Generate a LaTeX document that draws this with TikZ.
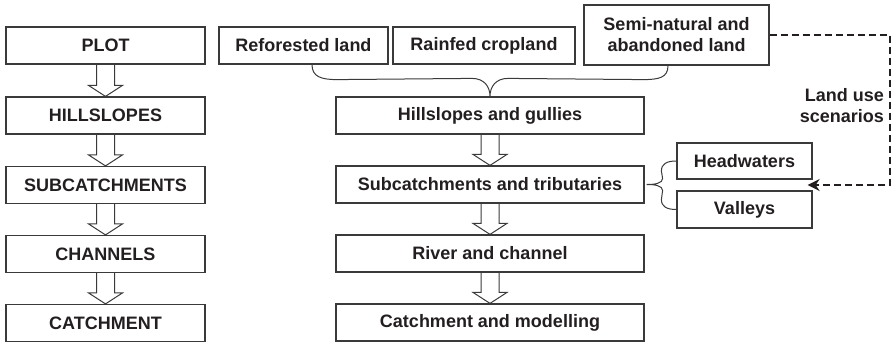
\documentclass[tikz,border=0pt]{standalone}
\usepackage{fontspec}
\setmainfont{Liberation Sans}
\usetikzlibrary{arrows.meta, calc}
\definecolor{boxline}{HTML}{3A3A3A}
\definecolor{inkdark}{HTML}{231F20}

\begin{document}
\begin{tikzpicture}[x=1pt, y=-1pt,
  box/.style={draw=boxline, line width=1.2pt, inner sep=0pt, align=center, text=inkdark, font=\fontsize{18}{21}\selectfont\bfseries},
  hollow/.style={draw=boxline, line width=1pt, line join=miter},
  brace/.style={draw=boxline, line width=1pt},
  scen/.style={draw=inkdark, line width=2pt, dash pattern=on 7pt off 4pt, -{Stealth[length=12pt, width=12pt]}}
]
  \useasboundingbox (0,0) rectangle (892,343);

  % left column: scales
  \node[box, minimum width=199pt, minimum height=37pt] (lplot) at (105.5, 45.5) {PLOT};
  \node[box, minimum width=199pt, minimum height=37pt] (lhill) at (105.5, 115.5) {HILLSLOPES};
  \node[box, minimum width=199pt, minimum height=37pt] (lsub) at (105.5, 185) {SUBCATCHMENTS};
  \node[box, minimum width=199pt, minimum height=37pt] (lchan) at (105.5, 254) {CHANNELS};
  \node[box, minimum width=199pt, minimum height=37pt] (lcatch) at (105.5, 323) {CATCHMENT};

  % top row: land uses
  \node[box, minimum width=169pt, minimum height=37pt] (reforest) at (303.5, 45.5) {Reforested land};
  \node[box, minimum width=182pt, minimum height=37pt] (rainfed) at (484, 45.5) {Rainfed cropland};
  \node[box, minimum width=185pt, minimum height=60pt] (seminat) at (676.5, 35) {Semi-natural and\\abandoned land};

  % middle column
  \node[box, minimum width=308pt, minimum height=37pt] (hill) at (490, 115.5) {Hillslopes and gullies};
  \node[box, minimum width=308pt, minimum height=37pt] (sub) at (490, 184.5) {Subcatchments and tributaries};
  \node[box, minimum width=308pt, minimum height=37pt] (river) at (490, 253.5) {River and channel};
  \node[box, minimum width=308pt, minimum height=37pt] (model) at (490, 322.5) {Catchment and modelling};

  \node[box, minimum width=135pt, minimum height=36pt] (head) at (744.5, 161) {Headwaters};
  \node[box, minimum width=135pt, minimum height=37pt] (valley) at (744.5, 209.5) {Valleys};

  \node[align=right, anchor=east, inner sep=0pt, text=inkdark, font=\fontsize{18}{21}\selectfont\bfseries]
    (lu) at (884, 106) {Land use\\scenarios};

  % hollow block arrows
  \foreach \a/\b in {lplot/lhill, lhill/lsub, lsub/lchan, lchan/lcatch, hill/sub, sub/river, river/model}
    \draw[hollow] ($(\a.south)+(-9,0)$) -- ($(\b.north)+(-9,-11)$) -- ($(\b.north)+(-17,-11)$)
      -- (\b.north) -- ($(\b.north)+(17,-11)$) -- ($(\b.north)+(9,-11)$) -- ($(\a.south)+(9,0)$);

  % brace from land uses
  \coordinate (bl) at ([xshift=8.5pt]reforest.south);
  \coordinate (br) at ([xshift=-8.5pt]seminat.south);
  \draw[brace] (bl) .. controls +(0,12) and +(-16,0) .. ++(25,15)
    -- ($(hill.north)+(-18,-18)$) .. controls +(12,0) and +(0,-10) .. (hill.north)
    .. controls +(0,-10) and +(-12,0) .. ($(hill.north)+(18,-18)$)
    -- ($(br)+(-25,14)$) .. controls +(16,0) and +(0,12) .. (br);

  % side brace
  \coordinate (tip) at ([xshift=2pt]sub.east);
  \draw[brace] (head.west) .. controls +(-10,0) and +(0,-7) .. ($(head.west)+(-15,10)$)
    -- ($(tip)+(16,-6)$) .. controls +(0,5) and +(8,0) .. (tip)
    .. controls +(8,0) and +(0,-5) .. ($(tip)+(16,6)$)
    -- ($(valley.west)+(-15,-10)$) .. controls +(0,7) and +(-10,0) .. (valley.west);

  % land use scenarios
  \coordinate (gap) at ($(head.south east)!0.5!(valley.north east)+(-5,0)$);
  \coordinate (turn) at (890, 35);
  \draw[scen] (seminat.east) -- (turn) |- (gap);
\end{tikzpicture}
\end{document}
